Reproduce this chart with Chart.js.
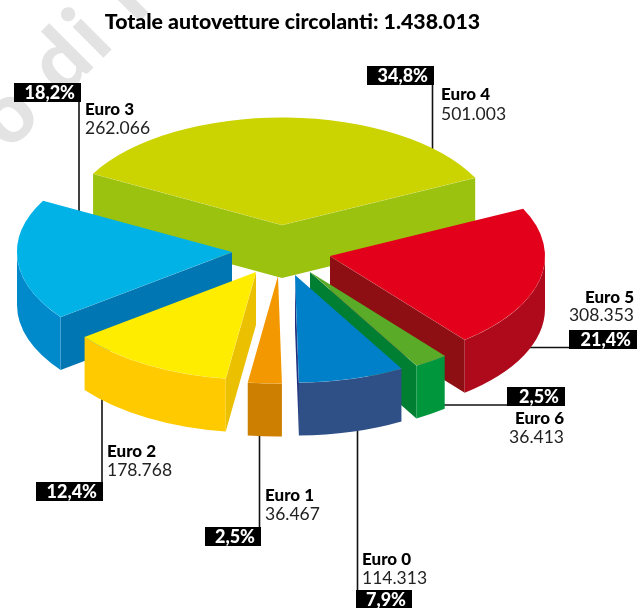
<!DOCTYPE html>
<html>
<head>
<meta charset="utf-8">
<title>Totale autovetture circolanti</title>
<script src="https://cdn.jsdelivr.net/npm/chart.js@4/dist/chart.umd.min.js"></script>
<style>
    html, body { margin: 0; padding: 0; background: #fff; }
    canvas { display: block; }
</style>
</head>
<body>
<canvas id="myChart" width="637" height="608"></canvas>
<script>
// data, clockwise from the big slice at the back
const categories = ['Euro 4', 'Euro 5', 'Euro 6', 'Euro 0', 'Euro 1', 'Euro 2', 'Euro 3'];
const values = [501003, 308353, 36413, 114313, 36467, 178768, 262066];
const valueLabels = ['501.003', '308.353', '36.413', '114.313', '36.467', '178.768', '262.066'];
const percentLabels = ['34,8%', '21,4%', '2,5%', '7,9%', '2,5%', '12,4%', '18,2%'];
const titleText = 'Totale autovetture circolanti: 1.438.013';

// colours: top, outer wall, cut face
const topColors = ['#CBD300', '#E2001A', '#5AAB28', '#0080C8', '#F39800', '#FFED00', '#00B2E6'];
const wallColors = ['#9BC20E', '#AF0A1C', '#00963C', '#2F4F87', '#CC7F00', '#FFCB00', '#008ACB'];
const faceColors = ['#9BC20E', '#8D0E13', '#007E32', '#1E2F7D', '#CC7F00', '#EBC000', '#0076B2'];

// 3d look
const pieX = 282, pieY = 225, squash = 0.5, depth = 53;
const explode = [[0, 0], [48, 31], [28, 47], [13, 50], [-4, 51], [-26, 47], [-50, 27]];
const drawOrder = [0, 6, 1, 5, 2, 4, 3];

// label layout: box [x, y, w], leader [x1, y1, x2, y2], text x, name y, value y, align
const labelLayout = [
    { box: [367, 66, 67], line: [432.5, 85, 432.5, 160], x: 441, y1: 100, y2: 120, align: 'left' },
    { box: [569, 330, 68], line: [520, 347.5, 570, 347.5], x: 634, y1: 303, y2: 321, align: 'right' },
    { box: [507, 387, 58], line: [430, 405, 508, 405], x: 564, y1: 424, y2: 443, align: 'right' },
    { box: [356, 590, 56], line: [357.5, 420, 357.5, 591], x: 362, y1: 565, y2: 584, align: 'left' },
    { box: [205, 527, 56], line: [259.5, 420, 259.5, 528], x: 265, y1: 501, y2: 520, align: 'left' },
    { box: [36, 482, 67], line: [102, 380, 102, 483], x: 107, y1: 457, y2: 476, align: 'left' },
    { box: [14, 83, 67], line: [79, 102, 79, 230], x: 85, y1: 115, y2: 134, align: 'left' }
];

const pie3d = {
    id: 'pie3d',
    beforeDraw(chart) {
        // watermark sits behind everything, title included
        const ctx = chart.ctx;
        ctx.save();
        ctx.translate(9, 152);
        ctx.rotate(-Math.PI / 4);
        ctx.font = '900 84px Lato';
        ctx.letterSpacing = '4px';
        ctx.fillStyle = '#E3E3E3';
        ctx.fillText('o di I', 0, 0);
        ctx.restore();
    },
    beforeDatasetsDraw(chart) {
        const ctx = chart.ctx;
        const arcs = chart.getDatasetMeta(0).data;

        // leaders go under the slices
        ctx.strokeStyle = '#111';
        ctx.lineWidth = 1.6;
        labelLayout.forEach((l) => {
            ctx.beginPath();
            ctx.moveTo(l.line[0], l.line[1]);
            ctx.lineTo(l.line[2], l.line[3]);
            ctx.stroke();
        });

        drawOrder.forEach((i) => {
            const arc = arcs[i];
            const cx = pieX + explode[i][0];
            const cy = pieY + explode[i][1];
            const r = arc.outerRadius;
            const a0 = arc.startAngle, a1 = arc.endAngle;

            // cut faces
            const face = (a) => {
                const px = cx + r * Math.cos(a), py = cy + r * squash * Math.sin(a);
                ctx.beginPath();
                ctx.moveTo(cx, cy);
                ctx.lineTo(px, py);
                ctx.lineTo(px, py + depth);
                ctx.lineTo(cx, cy + depth);
                ctx.closePath();
                ctx.fillStyle = faceColors[i];
                ctx.fill();
                ctx.beginPath();
                ctx.moveTo(cx, cy);
                ctx.lineTo(px, py);
                ctx.strokeStyle = 'rgba(255,255,255,0.35)';
                ctx.lineWidth = 0.7;
                ctx.stroke();
            };
            if (Math.cos(a0) < 0) face(a0);
            if (Math.cos(a1) > 0) face(a1);

            // outer wall, only the part facing us
            const w0 = Math.max(a0, 0), w1 = Math.min(a1, Math.PI);
            if (w1 > w0) {
                ctx.beginPath();
                ctx.ellipse(cx, cy, r, r * squash, 0, w0, w1, false);
                ctx.ellipse(cx, cy + depth, r, r * squash, 0, w1, w0, true);
                ctx.closePath();
                ctx.fillStyle = wallColors[i];
                ctx.fill();
                ctx.beginPath();
                ctx.ellipse(cx, cy, r, r * squash, 0, w0, w1, false);
                ctx.strokeStyle = 'rgba(255,255,255,0.35)';
                ctx.lineWidth = 0.7;
                ctx.stroke();
            }

            // top of the slice, drawn by the arc element itself
            ctx.save();
            ctx.translate(cx, cy);
            ctx.scale(1, squash);
            ctx.translate(-arc.x, -arc.y);
            arc.draw(ctx);
            ctx.restore();
        });

        // texts
        labelLayout.forEach((l, i) => {
            ctx.fillStyle = '#000';
            ctx.fillRect(l.box[0], l.box[1], l.box[2], 19);
            ctx.fillStyle = '#fff';
            ctx.font = '900 18px Lato';
            ctx.textAlign = 'right';
            ctx.fillText(percentLabels[i], l.box[0] + l.box[2] - 6, l.box[1] + 16);

            ctx.textAlign = l.align;
            ctx.fillStyle = '#000';
            ctx.font = '900 17px Lato';
            ctx.fillText(categories[i], l.x, l.y1);
            ctx.fillStyle = '#222';
            ctx.font = '17.5px Lato';
            ctx.fillText(valueLabels[i], l.x, l.y2);
        });
        ctx.textAlign = 'left';
        return false;
    }
};

new Chart(document.getElementById('myChart'), {
    type: 'pie',
    data: {
        labels: categories,
        datasets: [{
            data: values,
            backgroundColor: topColors,
            borderWidth: 0,
            radius: 215
        }]
    },
    options: {
        responsive: false,
        animation: false,
        rotation: -61.5,
        layout: { padding: { right: 52 } },
        plugins: {
            legend: { display: false },
            tooltip: { enabled: false },
            title: {
                display: true,
                text: titleText,
                color: '#000',
                font: { family: 'Lato', size: 21.3, weight: '900' },
                padding: { top: 9, bottom: 10 }
            }
        }
    },
    plugins: [pie3d]
});
</script>
</body>
</html>
